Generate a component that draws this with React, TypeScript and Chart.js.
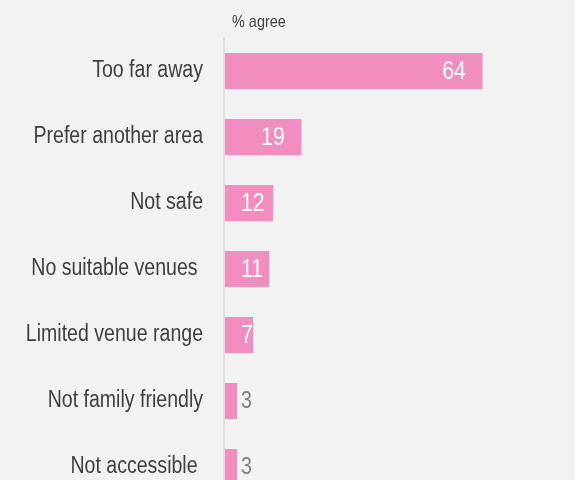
import React, { useEffect, useRef } from "react";
import { Chart, registerables } from "chart.js";

Chart.register(...registerables);

const categories = [
  "Too far away",
  "Prefer another area",
  "Not safe",
  "No suitable venues ",
  "Limited venue range",
  "Not family friendly",
  "Not accessible ",
];
const values = [64, 19, 12, 11, 7, 3, 3];
const axisTitle = "% agree";

const FONT = "'Liberation Sans', Arial, sans-serif";
const BG = "#f2f2f2";
const PINK = "#f18dbf";
const SX = 0.85; // horizontal condensing of the narrow typeface

function drawNarrow(ctx: CanvasRenderingContext2D, text: string, x: number, y: number, align: "left" | "right") {
  ctx.save();
  ctx.translate(x, y);
  ctx.scale(SX, 1);
  ctx.textAlign = align;
  ctx.fillText(text, 0, 0);
  ctx.restore();
}

const textPlugin = {
  id: "narrowText",
  afterDatasetsDraw(chart: any) {
    const { ctx, chartArea } = chart;
    const yScale = chart.scales.y;
    ctx.save();
    ctx.textBaseline = "middle";
    // category labels
    ctx.font = `23px ${FONT}`;
    ctx.fillStyle = "#404040";
    categories.forEach((c, i) => {
      const y = yScale.getPixelForValue(i);
      drawNarrow(ctx, c, chartArea.left - 22, y, "right");
    });
    // value labels
    const meta = chart.getDatasetMeta(0);
    meta.data.forEach((bar: any, i: number) => {
      const v = values[i];
      const text = String(v);
      const end = bar.x;
      const inside = v >= 5;
      ctx.font = `${inside ? 25 : 23}px ${FONT}`;
      const w = ctx.measureText(text).width * SX;
      let left = end - 28.5 - w / 2;
      left = Math.max(left, chartArea.left + 16);
      ctx.fillStyle = left + w <= end + 0.5 ? "#ffffff" : "#7f7f7f";
      drawNarrow(ctx, text, left, bar.y + 1, "left");
    });
    // axis title
    ctx.font = `17px ${FONT}`;
    ctx.fillStyle = "#404040";
    drawNarrow(ctx, axisTitle, chartArea.left + 7, 22, "left");
    ctx.restore();
  },
};

const axisLinePlugin = {
  id: "axisLine",
  beforeDatasetsDraw(chart: any) {
    const { ctx, chartArea } = chart;
    ctx.save();
    ctx.fillStyle = "#dfdfdf";
    ctx.fillRect(chartArea.left - 2, chartArea.top, 2, chartArea.bottom - chartArea.top);
    ctx.restore();
  },
};

const H = 500;

export default function App() {
  const ref = useRef<HTMLCanvasElement>(null);
  useEffect(() => {
    document.body.style.margin = "0";
    document.body.style.background = BG;
    const chart = new Chart(ref.current!, {
      type: "bar",
      data: {
        labels: categories,
        datasets: [
          {
            data: values,
            backgroundColor: PINK,
            borderWidth: 0,
            categoryPercentage: 1,
            barPercentage: 36 / 66,
          },
        ],
      },
      options: {
        indexAxis: "y",
        animation: false,
        responsive: false,
        layout: { padding: { top: 38, right: 0, bottom: 0, left: 0 } },
        plugins: { legend: { display: false }, tooltip: { enabled: false } },
        scales: {
          x: { display: false, min: 0, max: 87 },
          y: {
            grid: { display: false, drawTicks: false },
            border: { display: false },
            ticks: { display: false },
            afterFit: (s: any) => {
              s.width = 225;
            },
          },
        },
      },
      plugins: [axisLinePlugin, textPlugin],
    });
    return () => chart.destroy();
  }, []);
  return (
    <div style={{ position: "fixed", left: 0, top: 0, width: 575, height: H, background: BG }}>
      <canvas ref={ref} width={575} height={H} style={{ width: 575, height: H }} />
    </div>
  );
}
